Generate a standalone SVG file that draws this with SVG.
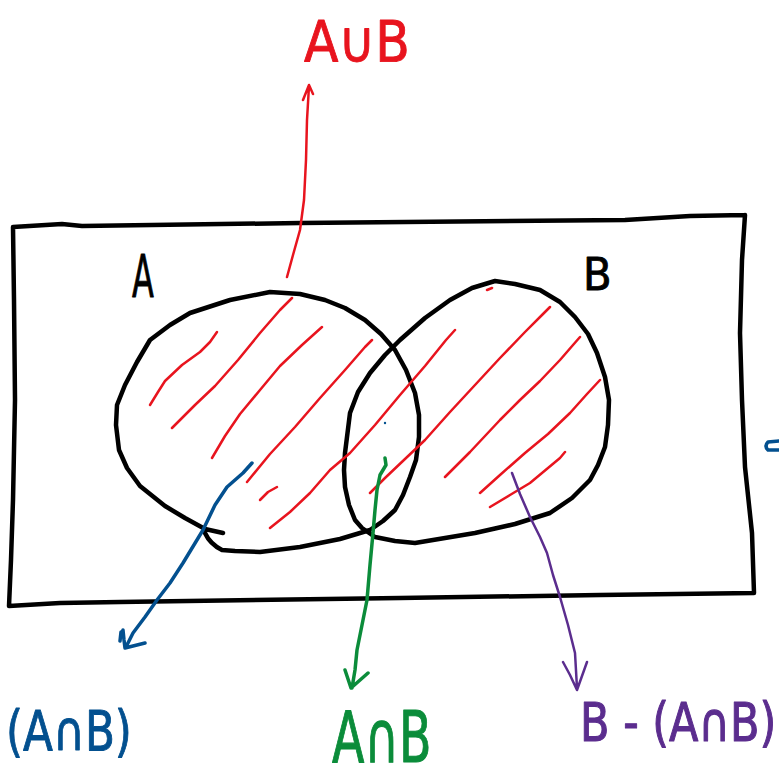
<svg xmlns="http://www.w3.org/2000/svg" width="779" height="778" viewBox="0 0 779 778">
<style>
.ink{fill:none;stroke-linecap:round;stroke-linejoin:round}
.blk{stroke:#000;stroke-width:4.5}
.red{stroke:#e8141e;stroke-width:2.5}
.blu{stroke:#03508f;stroke-width:3.5}
.grn{stroke:#0b8c3a;stroke-width:3.5}
.pur{stroke:#5b2d8e;stroke-width:2.5}
.sym{font-family:"DejaVu Sans","Liberation Sans",sans-serif;stroke-width:0.9;stroke-linejoin:round}
</style>
<rect width="779" height="778" fill="#fff"/>

<g id="universe">
<path class="ink blk" d="M13,227 L62,224 L82,226 L300,223 L625,220 L690,216 L745,215 M745,215 L742,260 L740,333 L742,400 L745,467 L752,533 L754,593 M754,593 L600,595 L400,598 L120,602 L60,603 L9,606 M9,606 L11,560 L13,500 L15,400 L14,300 L13,227"/>
</g>

<g id="setA">
<path class="ink blk" d="M223,533 L205,529 L185,518 L165,506 L140,486 L127,468 L119,450 L116,425 L117,405 L125,385 L137,362 L150,340 L170,325 L190,313 L230,300 L270,292 L300,294 L325,300 L345,308 L365,320 L381,334 L395,350 L406,370 L415,393 L419,415 L419,437 L416,460 L410,477 L403,495 L395,510 L383,521 L370,530 L340,539 L300,547 L260,552 L235,551 L222,550 Q210,544 205,533"/>
<text class="sym" transform="translate(132,297) scale(0.55,1)" font-size="58" fill="#000" stroke="#000">A</text>
</g>

<g id="setB">
<path class="ink blk" d="M345,453 L350,413 L358,392 L370,373 L385,355 L400,340 L425,318 L450,300 L472,288 L495,281 L515,284 L540,290 L560,302 L575,317 L588,334 L597,353 L605,377 L609,400 L608,425 L605,447 L598,465 L590,480 L572,498 L550,513 L515,524 L475,533 L445,538 L415,543 L395,541 L375,537 L362,528 L355,520 L349,505 L345,487 L344,470 L345,453"/>
<text class="sym" transform="translate(583,290) scale(0.95,1)" font-size="44" fill="#000" stroke="#000">B</text>
</g>

<g id="hatching">
<path class="ink red" d="M150,405 L158,392 L165,381 L182,365 L200,352 L210,342 L217,332"/>
<path class="ink red" d="M172,428 L195,405 L215,386 L238,360 L260,333 L280,310 L292,298"/>
<path class="ink red" d="M212,458 L225,436 L240,414 L260,390 L280,366 L302,345 L322,327"/>
<path class="ink red" d="M247,482 L270,454 L295,427 L320,398 L345,370 L365,347 L372,340"/>
<path class="ink red" d="M260,500 L268,492 L277,487"/>
<path class="ink red" d="M270,528 L290,512 L310,493 L330,470 L350,453 L375,425 L400,395 L425,366 L446,340 L455,330"/>
<path class="ink red" d="M370,493 L385,478 L405,459 L425,440 L450,412 L475,385 L500,358 L525,332 L542,315 L550,307"/>
<path class="ink red" d="M445,477 L470,452 L500,420 L520,400 L540,381 L560,360 L573,345 L580,337"/>
<path class="ink red" d="M480,493 L500,475 L525,453 L548,434 L570,413 L587,394 L600,380"/>
<path class="ink red" d="M490,507 L510,495 L530,483 L548,468 L560,458 L565,452"/>
<path class="ink red" d="M487,290 L492,288"/>
</g>

<g id="connectors">
<path class="ink red" d="M287,277 L293,255 L300,230 L304,200 L306,160 L307,120 L309,86 M303,100 L309,85 L313,94"/>
<path class="ink blu" d="M252,463 L243,473 L227,487 L215,505 L203,530 L183,563 L170,583 L157,600 L145,617 L133,633 L126,647 M123,630 L124,640 L125,648 L145,643 M121,632 L120,641"/>
<path class="ink grn" d="M385,458 L386,465 L380,475 L377,490 L375,510 L373,533 L370,565 L367,600 L362,625 L357,650 L355,670 L352,688 M345,670 L351,688 L368,673"/>
<path class="ink pur" d="M512,473 L520,494 L530,517 L540,537 L547,553 L553,575 L560,597 L568,625 L575,653 L577,688 M563,662 L570,675 L577,690 L587,662"/>
</g>

<g id="union-label">
<text class="sym" transform="translate(304,62) scale(0.9,1.03)" font-size="56" fill="#e8141e" stroke="#e8141e">A∪B</text>
</g>

<g id="left-label">
<text class="sym" transform="translate(6,750) scale(0.84,1.05)" font-size="52" fill="#03508f" stroke="#03508f">(A∩B)</text>
</g>

<g id="intersection-label">
<text class="sym" transform="translate(332,762) scale(0.79,1.19)" font-size="60" fill="#0b8c3a" stroke="#0b8c3a">A∩B</text>
</g>

<g id="difference-label">
<text class="sym" transform="translate(580,741) scale(1,1.25)" font-size="43" fill="#5b2d8e" stroke="#5b2d8e">B - (A∩B)</text>
</g>

<g id="marks">
<path class="ink blu" d="M779,441 L768,442 Q764,446 768,450 L779,450"/>
<circle cx="385" cy="423" r="1.2" fill="#03508f"/>
</g>
</svg>
